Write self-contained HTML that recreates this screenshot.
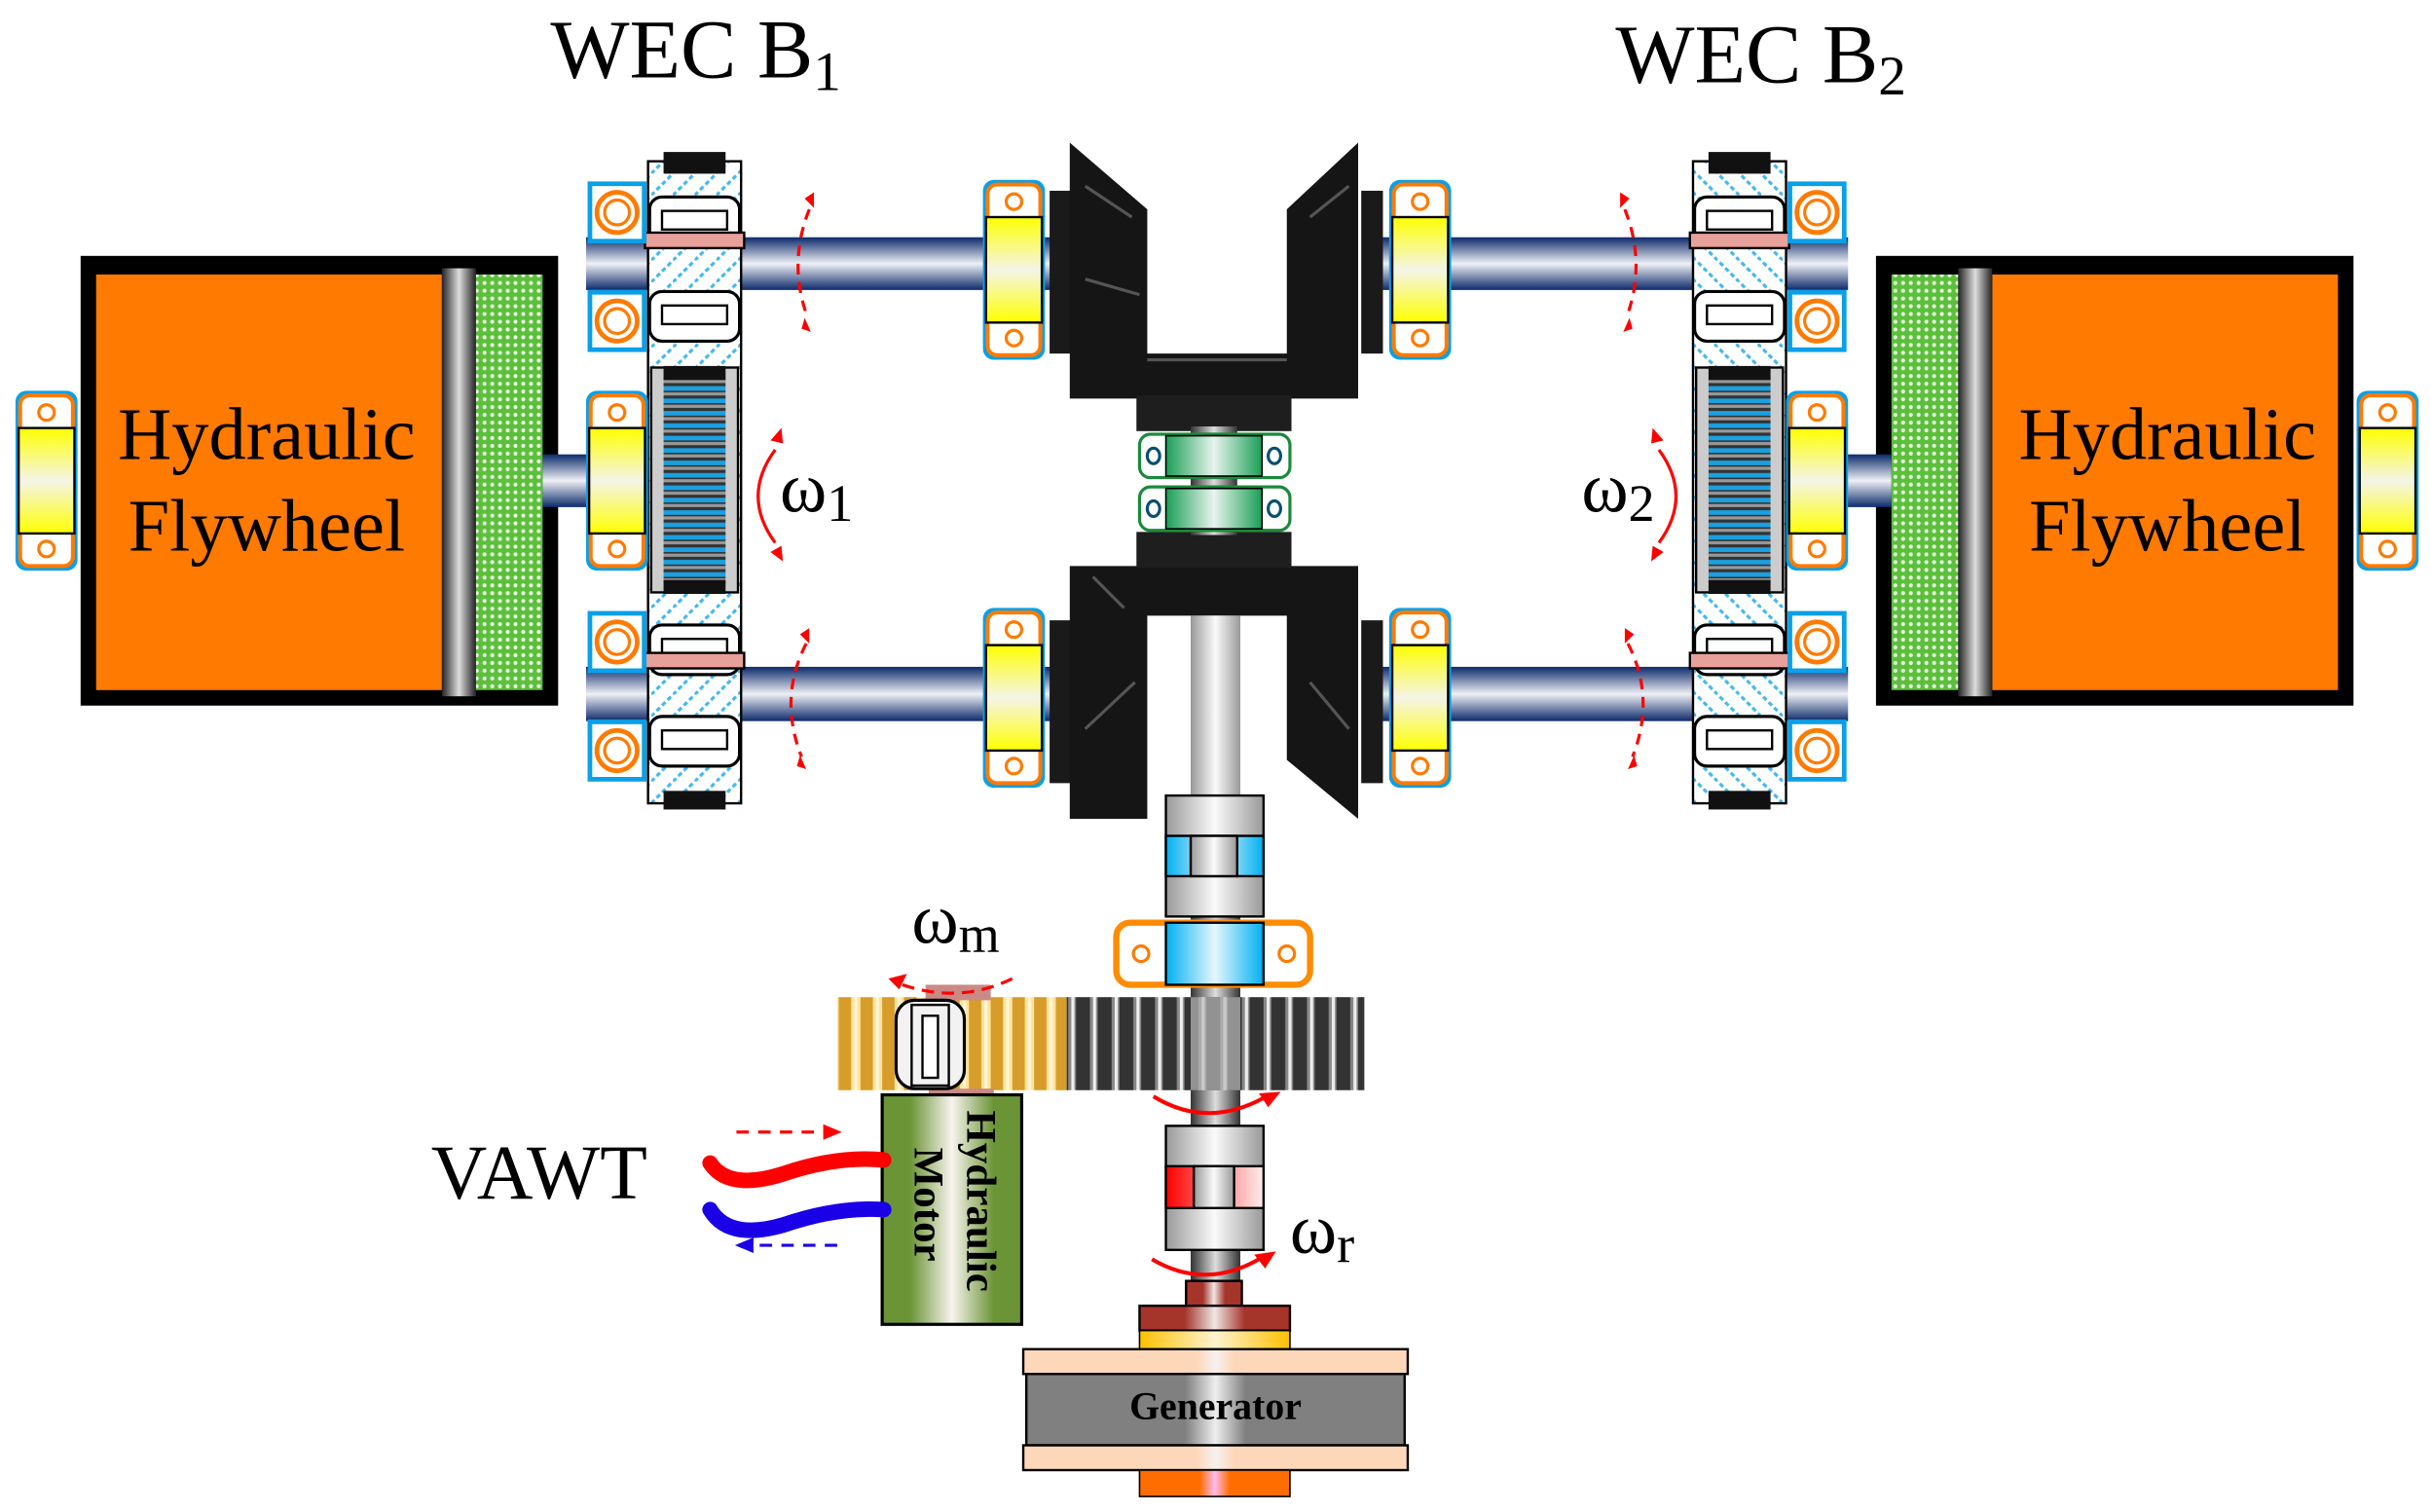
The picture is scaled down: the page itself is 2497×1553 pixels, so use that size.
<!DOCTYPE html>
<html><head><style>html,body{margin:0;padding:0;background:#fff}svg{display:block}</style></head><body>
<svg width="2497" height="1553" viewBox="0 0 1568 975" preserveAspectRatio="none" xmlns="http://www.w3.org/2000/svg" font-family="Liberation Serif, serif">
<defs>
<linearGradient id="shaftH" x1="0" y1="0" x2="0" y2="1"><stop offset="0" stop-color="#0d2a6b"/><stop offset=".5" stop-color="#eef0f5"/><stop offset="1" stop-color="#0d2a6b"/></linearGradient>
<linearGradient id="shaftV" x1="0" y1="0" x2="1" y2="0"><stop offset="0" stop-color="#333"/><stop offset=".5" stop-color="#ddd"/><stop offset="1" stop-color="#333"/></linearGradient>
<linearGradient id="yel" x1="0" y1="0" x2="0" y2="1"><stop offset="0" stop-color="#ff0"/><stop offset=".5" stop-color="#f4f4e8"/><stop offset="1" stop-color="#ff0"/></linearGradient>
<linearGradient id="silv" x1="0" y1="0" x2="1" y2="0"><stop offset="0" stop-color="#999"/><stop offset=".5" stop-color="#fafafa"/><stop offset="1" stop-color="#999"/></linearGradient>
<linearGradient id="grn" x1="0" y1="0" x2="1" y2="0"><stop offset="0" stop-color="#1a9e55"/><stop offset=".5" stop-color="#e8f4ee"/><stop offset="1" stop-color="#1a9e55"/></linearGradient>
<linearGradient id="blu" x1="0" y1="0" x2="1" y2="0"><stop offset="0" stop-color="#00b0f0"/><stop offset=".5" stop-color="#e6f6fd"/><stop offset="1" stop-color="#00b0f0"/></linearGradient>
<linearGradient id="red" x1="0" y1="0" x2="1" y2="0"><stop offset="0" stop-color="#f00"/><stop offset="1" stop-color="#fee"/></linearGradient>
<linearGradient id="brn" x1="0" y1="0" x2="1" y2="0"><stop offset="0" stop-color="#a5342b"/><stop offset=".3" stop-color="#a5342b"/><stop offset=".5" stop-color="#f0e6e4"/><stop offset=".7" stop-color="#a5342b"/><stop offset="1" stop-color="#a5342b"/></linearGradient>
<linearGradient id="gld" x1="0" y1="0" x2="1" y2="0"><stop offset="0" stop-color="#ffc000"/><stop offset=".5" stop-color="#fff3cf"/><stop offset="1" stop-color="#ffc000"/></linearGradient>
<linearGradient id="pch" x1="0" y1="0" x2="1" y2="0"><stop offset="0" stop-color="#fdd7b9"/><stop offset=".45" stop-color="#fdd7b9"/><stop offset=".5" stop-color="#f6f0ee"/><stop offset=".55" stop-color="#fdd7b9"/><stop offset="1" stop-color="#fdd7b9"/></linearGradient>
<linearGradient id="gry" x1="0" y1="0" x2="1" y2="0"><stop offset="0" stop-color="#808080"/><stop offset=".42" stop-color="#808080"/><stop offset=".5" stop-color="#eee"/><stop offset=".58" stop-color="#808080"/><stop offset="1" stop-color="#808080"/></linearGradient>
<linearGradient id="org" x1="0" y1="0" x2="1" y2="0"><stop offset="0" stop-color="#ff6d00"/><stop offset=".4" stop-color="#ff6d00"/><stop offset=".5" stop-color="#fbe"/><stop offset=".6" stop-color="#ff6d00"/><stop offset="1" stop-color="#ff6d00"/></linearGradient>
<linearGradient id="mot" x1="0" y1="0" x2="1" y2="0"><stop offset="0" stop-color="#6b9436"/><stop offset=".2" stop-color="#6b9436"/><stop offset=".5" stop-color="#f8f4ee"/><stop offset=".8" stop-color="#6b9436"/><stop offset="1" stop-color="#6b9436"/></linearGradient>
<linearGradient id="band" x1="0" y1="0" x2="1" y2="0"><stop offset="0" stop-color="#222"/><stop offset=".5" stop-color="#ddd"/><stop offset="1" stop-color="#222"/></linearGradient>
<pattern id="gteeth" width="14" height="10" patternUnits="userSpaceOnUse"><rect width="14" height="10" fill="#333"/><rect x="3" width="5" height="10" fill="#888"/><rect x="5" width="2" height="10" fill="#eee"/></pattern>
<pattern id="yteeth" width="14" height="10" patternUnits="userSpaceOnUse"><rect width="14" height="10" fill="#d69d2a"/><rect x="3" width="6" height="10" fill="#ffe39a"/><rect x="5" width="2" height="10" fill="#fff6d8"/></pattern>
<pattern id="dots" width="5" height="5" patternUnits="userSpaceOnUse"><rect width="5" height="5" fill="#5cbf3c"/><circle cx="2.5" cy="2.5" r="1.3" fill="#e8f8e0"/></pattern>
<pattern id="spring" width="10" height="8" patternUnits="userSpaceOnUse"><rect width="10" height="8" fill="#333"/><rect y="1" width="10" height="3" fill="#1aa0e0"/><rect y="5" width="10" height="2" fill="#999"/></pattern>
<pattern id="hatch" width="14" height="14" patternUnits="userSpaceOnUse"><rect width="14" height="14" fill="#fff"/><path d="M0 14 L14 0" stroke="#43b8ee" stroke-width="2" stroke-dasharray="3 2"/></pattern>
<g id="brg"><rect x="0" y="0" width="40" height="116" rx="7" fill="#0aa0e8"/><rect x="3" y="3" width="34" height="110" rx="6" fill="#fff" stroke="#ff7a00" stroke-width="2.5"/><circle cx="20" cy="14" r="5" fill="none" stroke="#ff7a00" stroke-width="2"/><circle cx="20" cy="102" r="5" fill="none" stroke="#ff7a00" stroke-width="2"/><rect x="2" y="24" width="36" height="68" fill="url(#yel)" stroke="#000" stroke-width="1.5"/></g>
<g id="sb"><rect x="0" y="0" width="38" height="40" fill="#0aa0e8"/><rect x="3" y="3" width="32" height="34" fill="#fff"/><circle cx="19" cy="20" r="13" fill="#fff" stroke="#ff7a00" stroke-width="3"/><circle cx="19" cy="20" r="8" fill="none" stroke="#ff7a00" stroke-width="2"/></g>
<g id="roll"><rect x="0" y="0" width="58" height="32" rx="8" fill="#fff" stroke="#000" stroke-width="2"/><rect x="8" y="9" width="42" height="12" fill="#fff" stroke="#000" stroke-width="1.5"/></g>
<g id="side">
<rect x="52" y="165" width="308" height="290" fill="#000"/>
<rect x="62" y="177" width="223" height="268" fill="#ff7a00"/>
<rect x="285" y="173" width="22" height="276" fill="url(#band)"/>
<rect x="307" y="177" width="43" height="268" fill="url(#dots)"/>
<use href="#brg" x="10" y="252"/>
<rect x="350" y="293" width="32" height="34" fill="url(#shaftH)"/>
<rect x="378" y="153" width="300" height="34" fill="url(#shaftH)"/>
<rect x="378" y="430" width="300" height="35" fill="url(#shaftH)"/>
<rect x="418" y="104" width="60" height="414" fill="url(#hatch)" stroke="#000" stroke-width="1.5"/>
<rect x="428" y="98" width="40" height="14" fill="#111"/>
<rect x="428" y="510" width="40" height="12" fill="#111"/>
<rect x="420" y="237" width="56" height="145" fill="#ccc" stroke="#000" stroke-width="1.5"/>
<rect x="428" y="243" width="40" height="133" fill="url(#spring)"/>
<rect x="428" y="236" width="40" height="9" fill="#111"/><rect x="428" y="374" width="40" height="9" fill="#111"/>
<use href="#roll" x="419" y="127"/><use href="#roll" x="419" y="188"/>
<use href="#roll" x="419" y="403"/><use href="#roll" x="419" y="462"/>
<rect x="416" y="150" width="64" height="10" fill="#e8a09a" stroke="#000" stroke-width="1.5"/>
<rect x="416" y="421" width="64" height="10" fill="#e8a09a" stroke="#000" stroke-width="1.5"/>
<use href="#sb" x="379" y="117"/><use href="#sb" x="379" y="187"/>
<use href="#sb" x="379" y="394"/><use href="#sb" x="379" y="464"/>
<use href="#brg" x="378" y="252"/>
<use href="#brg" x="634" y="116"/><use href="#brg" x="634" y="392"/>
<path d="M522 135 Q508 170 521 205" fill="none" stroke="#f00" stroke-width="2" stroke-dasharray="7 5"/>
<path d="M519 128 l6 -4 l0 10 z M517 212 l6 2 l-4 -9 z" fill="#f00"/>
<path d="M520 415 Q502 450 517 488" fill="none" stroke="#f00" stroke-width="2" stroke-dasharray="7 5"/>
<path d="M516 409 l6 -4 l0 10 z M514 494 l6 2 l-4 -9 z" fill="#f00"/>
<path d="M500 290 Q478 320 500 350" fill="none" stroke="#f00" stroke-width="2"/>
<path d="M497 284 l7 -8 l1 10 z M497 356 l8 6 l-1 -10 z" fill="#f00"/>
</g>
</defs>

<use href="#side"/>
<use href="#side" transform="translate(1570,0) scale(-1,1)"/>

<rect x="677" y="123" width="14" height="105" fill="#1a1a1a"/>
<rect x="878" y="123" width="14" height="105" fill="#1a1a1a"/>
<rect x="677" y="400" width="14" height="105" fill="#1a1a1a"/>
<rect x="878" y="400" width="14" height="105" fill="#1a1a1a"/>
<path d="M690 92 L740 135 L740 228 L830 228 L830 135 L876 92 L876 257 L690 257 Z" fill="#151515"/>
<path d="M690 365 L876 365 L876 528 L830 490 L830 397 L740 397 L740 528 L690 528 Z" fill="#151515"/>
<path d="M700 120 L730 140 M700 180 L735 190 M845 140 L870 120 M700 470 L732 440 M845 440 L870 470 M705 372 L725 392 M740 232 L830 232" stroke="#555" stroke-width="2"/>
<rect x="733" y="255" width="100" height="23" fill="#1e1e1e"/>
<rect x="733" y="343" width="100" height="23" fill="#1e1e1e"/>
<rect x="768" y="275" width="30" height="70" fill="url(#shaftV)"/>
<g><rect x="735" y="280" width="97" height="28" rx="7" fill="#fff" stroke="#1a8a3a" stroke-width="2"/><rect x="752" y="281" width="62" height="26" fill="url(#grn)" stroke="#000"/><ellipse cx="744" cy="294" rx="4" ry="5" fill="none" stroke="#0a5070" stroke-width="2"/><ellipse cx="822" cy="294" rx="4" ry="5" fill="none" stroke="#0a5070" stroke-width="2"/></g>
<g><rect x="735" y="314" width="97" height="28" rx="7" fill="#fff" stroke="#1a8a3a" stroke-width="2"/><rect x="752" y="315" width="62" height="26" fill="url(#grn)" stroke="#000"/><ellipse cx="744" cy="328" rx="4" ry="5" fill="none" stroke="#0a5070" stroke-width="2"/><ellipse cx="822" cy="328" rx="4" ry="5" fill="none" stroke="#0a5070" stroke-width="2"/></g>

<rect x="768" y="397" width="32" height="440" fill="url(#shaftV)"/>
<rect x="768" y="397" width="32" height="118" fill="url(#silv)"/>
<rect x="752" y="513" width="63" height="78" fill="url(#silv)" stroke="#000" stroke-width="1.5"/>
<rect x="752" y="539" width="63" height="26" fill="url(#blu)" stroke="#000" stroke-width="1.5"/>
<rect x="768" y="539" width="30" height="26" fill="url(#silv)" stroke="#000" stroke-width="1.5"/>
<rect x="720" y="595" width="125" height="40" rx="9" fill="#fff" stroke="#ff8c00" stroke-width="4"/>
<circle cx="736" cy="615" r="5" fill="none" stroke="#ff7a00" stroke-width="2"/><circle cx="830" cy="615" r="5" fill="none" stroke="#ff7a00" stroke-width="2"/>
<rect x="752" y="595" width="63" height="40" fill="url(#blu)" stroke="#000" stroke-width="1.5"/>
<rect x="540" y="643" width="148" height="60" fill="url(#yteeth)"/>
<rect x="688" y="643" width="192" height="60" fill="url(#gteeth)"/>
<rect x="768" y="643" width="32" height="60" fill="#bbb" opacity=".7"/>
<rect x="597" y="635" width="42" height="10" fill="#c98a85"/>
<rect x="599" y="702" width="42" height="7" fill="#c98a85"/>
<rect x="578" y="645" width="44" height="57" rx="12" fill="#f2f2f2" stroke="#000" stroke-width="2"/>
<rect x="588" y="648" width="24" height="52" fill="none" stroke="#000" stroke-width="1.5"/>
<rect x="595" y="655" width="10" height="40" fill="#fff" stroke="#000" stroke-width="1.5"/>
<path d="M582 635 Q620 648 655 630" fill="none" stroke="#f00" stroke-width="2" stroke-dasharray="8 5"/>
<path d="M573 631 l12 -3 l-5 10 z" fill="#f00"/>
<rect x="752" y="726" width="63" height="80" fill="url(#silv)" stroke="#000" stroke-width="1.5"/>
<rect x="752" y="752" width="63" height="27" fill="url(#red)" stroke="#000" stroke-width="1.5"/>
<rect x="770" y="752" width="26" height="27" fill="url(#silv)" stroke="#000" stroke-width="1.5"/>
<path d="M744 707 Q778 728 815 708" fill="none" stroke="#f00" stroke-width="2.5"/><path d="M826 704 l-14 1 l6 9 z" fill="#f00"/>
<path d="M743 812 Q777 832 812 812" fill="none" stroke="#f00" stroke-width="2.5"/><path d="M823 807 l-14 2 l7 9 z" fill="#f00"/>
<rect x="765" y="826" width="36" height="17" fill="url(#brn)" stroke="#000" stroke-width="1.5"/>
<rect x="735" y="842" width="97" height="16" fill="url(#brn)" stroke="#000" stroke-width="1.5"/>
<rect x="735" y="858" width="97" height="13" fill="url(#gld)" stroke="#000" stroke-width="1"/>
<rect x="660" y="870" width="248" height="16" fill="url(#pch)" stroke="#000" stroke-width="1.5"/>
<rect x="662" y="886" width="244" height="46" fill="url(#gry)" stroke="#000" stroke-width="1.5"/>
<rect x="660" y="932" width="248" height="16" fill="url(#pch)" stroke="#000" stroke-width="1.5"/>
<rect x="735" y="948" width="97" height="17" fill="url(#org)" stroke="#000" stroke-width="1"/>
<text x="784" y="915" text-anchor="middle" font-size="25" font-weight="bold">Generator</text>
<rect x="569" y="706" width="90" height="148" fill="url(#mot)" stroke="#000" stroke-width="2"/>
<text transform="translate(624,716) rotate(90)" font-size="27" font-weight="bold">Hydraulic</text>
<text transform="translate(590,740) rotate(90)" font-size="27" font-weight="bold">Motor</text>
<path d="M458 750 Q470 768 505 757 Q540 745 570 748" fill="none" stroke="#f00" stroke-width="10" stroke-linecap="round"/>
<path d="M458 780 Q470 800 505 790 Q540 778 570 780" fill="none" stroke="#1a00e6" stroke-width="10" stroke-linecap="round"/>
<path d="M475 730 L535 730" stroke="#f00" stroke-width="2" stroke-dasharray="8 6"/><path d="M543 730 l-12 -5 v10 z" fill="#f00"/>
<path d="M540 803 L485 803" stroke="#1a00e6" stroke-width="2" stroke-dasharray="8 6"/><path d="M474 803 l12 -5 v10 z" fill="#1a00e6"/>

<g>
<text x="355" y="50" font-size="54">WEC B<tspan font-size="36" dy="8">1</tspan></text>
<text x="1042" y="53" font-size="54">WEC B<tspan font-size="36" dy="8">2</tspan></text>
<text x="172" y="296" text-anchor="middle" font-size="48">Hydraulic</text>
<text x="172" y="355" text-anchor="middle" font-size="48">Flywheel</text>
<text x="1398" y="296" text-anchor="middle" font-size="48">Hydraulic</text>
<text x="1398" y="355" text-anchor="middle" font-size="48">Flywheel</text>
<text x="278" y="773" font-size="50">VAWT</text>
<text x="503" y="330" font-size="46">ω<tspan font-size="34" dy="6">1</tspan></text>
<text x="1020" y="330" font-size="46">ω<tspan font-size="34" dy="6">2</tspan></text>
<text x="588" y="608" font-size="46">ω<tspan font-size="34" dy="6">m</tspan></text>
<text x="832" y="808" font-size="46">ω<tspan font-size="34" dy="6">r</tspan></text>
</g>
</svg>
</body></html>
